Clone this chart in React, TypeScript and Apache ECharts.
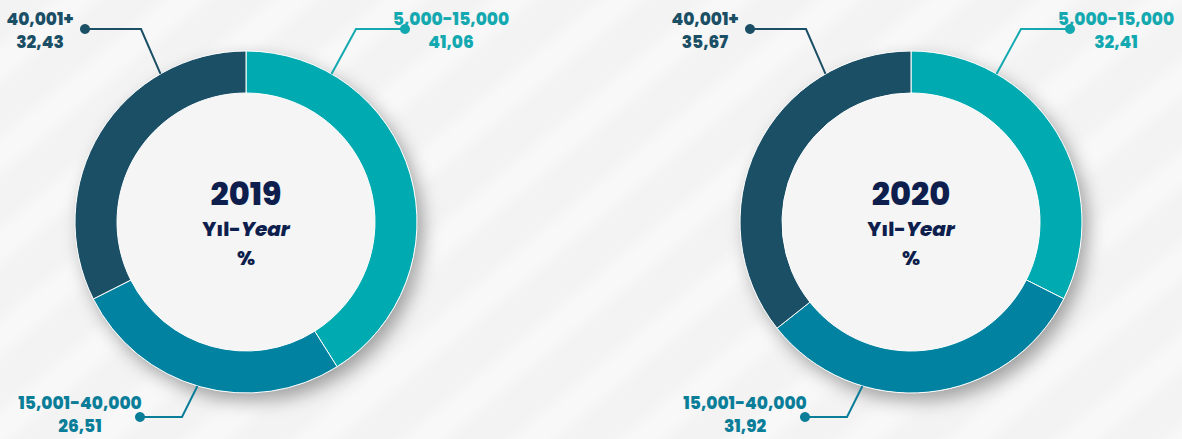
import React, { useEffect, useRef } from "react";
import * as echarts from "echarts";

// ---- data ----
const CATEGORIES = ["5,000-15,000", "15,001-40,000", "40,001+"];
const YEARS = ["2019", "2020"];
const VALUES_2019 = [41.06, 26.51, 32.43];
const VALUES_2020 = [32.41, 31.92, 35.67];
const YEAR_LABEL_TR = "Yıl-";
const YEAR_LABEL_EN = "Year";
const UNIT = "%";

// ---- styling / layout ----
const SLICE_COLORS = ["#00AAB1", "#0082A0", "#1A4F66"];
const LABEL_COLORS = ["#14A9B0", "#0A7E99", "#1B4F66"];
const NAVY = "#0E1F4D";
const FONT = "Poppins, Inter, 'Open Sans', sans-serif";
const W = 1182;
const H = 439;
const CENTERS: [number, number][] = [
  [246, 222],
  [911, 222],
];
const R_IN = 129;
const R_OUT = 171;
// leader geometry per category, relative to pie center
const LABEL_GEOM = [
  { angle: 30, elbow: [110, -193], dot: [159, -193], text: [205, -192] },
  { angle: 196.5, elbow: [-64, 195], dot: [-106, 195], text: [-166, 192] },
  { angle: -30, elbow: [-105, -193], dot: [-161, -193], text: [-206, -192] },
];

const fmt = (v: number) => v.toFixed(2).replace(".", ",");

export default function App() {
  const ref = useRef<HTMLDivElement>(null);

  useEffect(() => {
    document.body.style.margin = "0";
    if (!ref.current) return;
    const chart = echarts.init(ref.current, undefined, { renderer: "svg" });
    const allValues = [VALUES_2019, VALUES_2020];

    const series: any[] = [];
    const graphics: any[] = [];

    allValues.forEach((vals, yi) => {
      const [cx, cy] = CENTERS[yi];
      // shadow-casting disk behind the ring
      series.push({
        type: "pie",
        silent: true,
        z: 1,
        center: [cx, cy],
        radius: [0, R_OUT],
        label: { show: false },
        labelLine: { show: false },
        data: [
          {
            value: 1,
            itemStyle: {
              color: "#f5f5f5",
              shadowBlur: 18,
              shadowOffsetX: 6,
              shadowOffsetY: 8,
              shadowColor: "rgba(0,0,0,0.35)",
            },
          },
        ],
      });
      series.push({
        type: "pie",
        z: 2,
        center: [cx, cy],
        radius: [R_IN, R_OUT],
        startAngle: 90,
        clockwise: true,
        label: { show: false },
        labelLine: { show: false },
        itemStyle: { borderColor: "#ffffff", borderWidth: 1 },
        data: CATEGORIES.map((name, i) => ({
          name,
          value: vals[i],
          itemStyle: { color: SLICE_COLORS[i] },
        })),
      });

      // labels with leader lines
      CATEGORIES.forEach((name, i) => {
        const g = LABEL_GEOM[i];
        const a = (g.angle * Math.PI) / 180;
        const ax = cx + R_OUT * Math.sin(a);
        const ay = cy - R_OUT * Math.cos(a);
        const col = LABEL_COLORS[i];
        graphics.push({
          type: "polyline",
          z: 3,
          silent: true,
          shape: {
            points: [
              [ax, ay],
              [cx + g.elbow[0], cy + g.elbow[1]],
              [cx + g.dot[0], cy + g.dot[1]],
            ],
          },
          style: { stroke: col, lineWidth: 2, fill: null },
        });
        graphics.push({
          type: "circle",
          z: 4,
          silent: true,
          shape: { cx: cx + g.dot[0], cy: cy + g.dot[1], r: 5 },
          style: { fill: col },
        });
        graphics.push({
          type: "text",
          z: 4,
          silent: true,
          x: cx + g.text[0],
          y: cy + g.text[1],
          style: {
            text: `${name}\n${fmt(vals[i])}`,
            align: "center",
            verticalAlign: "middle",
            fill: col,
            fontFamily: FONT,
            fontWeight: 800,
            fontSize: 17,
            lineHeight: 23,
          },
        });
      });

      // center text
      graphics.push({
        type: "text",
        z: 5,
        silent: true,
        x: cx,
        y: cy,
        style: {
          text: `{y|${YEARS[yi]}}\n{a|${YEAR_LABEL_TR}}{b|${YEAR_LABEL_EN}}\n{a|${UNIT}}`,
          align: "center",
          verticalAlign: "middle",
          fill: NAVY,
          fontFamily: FONT,
          fontWeight: 800,
          rich: {
            y: { fontSize: 32, fontWeight: 800, fontFamily: FONT, fill: NAVY, lineHeight: 42 },
            a: { fontSize: 20, fontWeight: 800, fontFamily: FONT, fill: NAVY, lineHeight: 29 },
            b: {
              fontSize: 20,
              fontWeight: 800,
              fontStyle: "italic",
              fontFamily: FONT,
              fill: NAVY,
              lineHeight: 29,
            },
          },
        },
      });
    });

    chart.setOption({
      animation: false,
      backgroundColor: "transparent",
      series,
      graphic: { elements: graphics },
    });

    return () => chart.dispose();
  }, []);

  return (
    <div
      ref={ref}
      style={{
        width: W,
        height: H,
        backgroundColor: "#f4f4f4",
        backgroundImage:
          "repeating-linear-gradient(140deg, #f3f3f3 0px, #f3f3f3 28px, #f8f8f8 42px, #f8f8f8 56px, #f3f3f3 70px)",
      }}
    />
  );
}
